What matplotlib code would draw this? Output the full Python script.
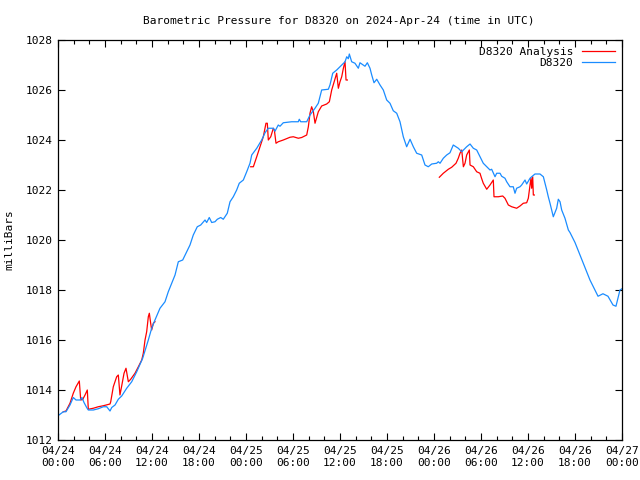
import matplotlib
matplotlib.use("Agg")
import matplotlib.pyplot as plt
from matplotlib.ticker import MultipleLocator

plt.rcParams['font.family'] = ['DejaVu Sans Mono']

# hours since 2024-04-24 00:00 UTC
obs_hours = [0, 0.68, 1.02, 1.53, 1.95, 2.30, 2.81, 3.06, 3.32, 3.66, 3.87, 4.51, 5.14, 5.78,
             6.22, 6.64, 6.86, 7.28, 7.70, 8.13, 8.77, 9.41, 10.05, 10.81, 11.53, 11.96, 12.38,
             13.02, 13.66, 14.08, 14.51, 14.94, 15.36, 15.92, 16.43, 16.85, 17.27, 17.78, 18.22,
             18.77, 18.98, 19.31, 19.62, 20.04, 20.34, 20.77, 21.10, 21.61, 21.96, 22.38, 22.81,
             23.14, 23.66, 24.09, 24.51, 24.73, 25.37, 26.00, 26.43, 26.85, 27.49, 27.70, 28.12,
             28.34, 28.76, 29.83, 30.68, 30.80, 30.98, 31.75, 32.17, 32.81, 33.23, 33.66, 34.51,
             34.72, 35.07, 35.58, 36.22, 36.64, 36.86, 37.06, 37.19, 37.49, 37.91, 38.34, 38.55,
             38.97, 39.19, 39.49, 39.83, 40.05, 40.34, 40.69, 41.11, 41.53, 41.96, 42.38, 42.80,
             43.24, 43.66, 44.08, 44.51, 44.94, 45.36, 45.79, 46.43, 46.85, 47.27, 47.71, 48.34,
             48.55, 48.77, 49.19, 49.62, 50.04, 50.46, 50.81, 51.10, 51.54, 52.17, 52.60, 53.02,
             53.45, 53.87, 54.29, 54.73, 55.15, 55.36, 55.79, 56.00, 56.43, 56.64, 57.06, 57.28,
             57.70, 58.12, 58.34, 58.55, 58.98, 59.19, 59.62, 59.83, 60.26, 60.47, 60.89, 61.53,
             61.96, 62.17, 62.39, 62.59, 62.81, 63.23, 63.66, 63.87, 64.09, 64.30, 64.72, 65.15,
             65.36, 66.0, 66.64, 67.28, 67.91, 68.55, 68.94, 69.57, 70.21, 70.85, 71.23, 71.74, 72.0]
obs_mb = [1012.97, 1013.13, 1013.13, 1013.4, 1013.7, 1013.6, 1013.6, 1013.7, 1013.5, 1013.3,
          1013.2, 1013.2, 1013.25, 1013.33, 1013.33, 1013.16, 1013.3, 1013.4, 1013.63, 1013.76,
          1014.07, 1014.33, 1014.73, 1015.27, 1016.0, 1016.47, 1016.8, 1017.27, 1017.53, 1017.93,
          1018.27, 1018.6, 1019.13, 1019.2, 1019.53, 1019.8, 1020.2, 1020.53, 1020.6, 1020.8,
          1020.7, 1020.9, 1020.7, 1020.73, 1020.83, 1020.9, 1020.83, 1021.07, 1021.53, 1021.73,
          1022.0, 1022.27, 1022.4, 1022.73, 1023.07, 1023.4, 1023.67, 1024.0, 1024.29, 1024.47,
          1024.47, 1024.35, 1024.6, 1024.55, 1024.69, 1024.73, 1024.73, 1024.83, 1024.73, 1024.73,
          1025.0, 1025.27, 1025.47, 1026.0, 1026.03, 1026.2, 1026.67, 1026.8, 1027.0, 1027.13,
          1027.33, 1027.25, 1027.44, 1027.13, 1027.07, 1026.87, 1027.09, 1027.0, 1026.95, 1027.09,
          1026.87, 1026.6, 1026.29, 1026.43, 1026.2, 1026.0, 1025.6, 1025.47, 1025.17, 1025.07,
          1024.73, 1024.13, 1023.73, 1024.03, 1023.73, 1023.47, 1023.4, 1023.0, 1022.93, 1023.04,
          1023.07, 1023.13, 1023.07, 1023.27, 1023.4, 1023.49, 1023.8, 1023.73, 1023.67, 1023.53,
          1023.73, 1023.84, 1023.67, 1023.6, 1023.33, 1023.07, 1022.93, 1022.8, 1022.83, 1022.53,
          1022.67, 1022.67, 1022.55, 1022.47, 1022.33, 1022.13, 1022.13, 1021.87, 1022.07, 1022.13,
          1022.2, 1022.4, 1022.24, 1022.47, 1022.53, 1022.64, 1022.64, 1022.53, 1022.27, 1022.0,
          1021.73, 1021.47, 1020.93, 1021.27, 1021.63, 1021.53, 1021.2, 1020.87, 1020.4, 1020.3,
          1019.9, 1019.4, 1018.9, 1018.4, 1018.0, 1017.75, 1017.85, 1017.75, 1017.4, 1017.35,
          1018.0, 1018.05]

ana1_hours = [0.68, 1.02, 1.53, 1.95, 2.30, 2.72, 2.90, 3.15, 3.45, 3.74, 3.87, 4.51, 5.14, 5.78,
              6.64, 6.73, 7.06, 7.49, 7.70, 7.91, 8.13, 8.43, 8.68, 8.98, 9.28, 9.83, 10.26, 10.69,
              10.89, 11.11, 11.32, 11.53, 11.66, 11.83, 11.96, 12.17, 12.38]
ana1_mb = [1013.13, 1013.16, 1013.47, 1013.87, 1014.13, 1014.36, 1013.6, 1013.62, 1013.8, 1014.0,
           1013.23, 1013.27, 1013.33, 1013.37, 1013.44, 1013.53, 1014.13, 1014.53, 1014.6, 1013.8,
           1014.16, 1014.67, 1014.87, 1014.33, 1014.43, 1014.67, 1014.93, 1015.2, 1015.47, 1016.0,
           1016.33, 1016.93, 1017.07, 1016.67, 1016.4, 1016.67, 1016.73]

ana2_hours = [24.60, 24.94, 25.37, 25.79, 26.21, 26.55, 26.72, 26.85, 27.16, 27.49, 27.62, 27.83,
              28.12, 28.76, 29.62, 30.04, 30.68, 31.11, 31.75, 31.96, 32.17, 32.38, 32.60, 32.81,
              33.23, 33.66, 34.30, 34.64, 34.94, 35.58, 35.79, 36.00, 36.22, 36.43, 36.64, 36.77, 36.94]
ana2_mb = [1022.93, 1022.93, 1023.33, 1023.73, 1024.13, 1024.67, 1024.67, 1024.0, 1024.13, 1024.47,
           1024.4, 1023.87, 1023.93, 1024.0, 1024.11, 1024.13, 1024.07, 1024.1, 1024.2, 1024.53,
           1025.07, 1025.33, 1025.13, 1024.67, 1025.13, 1025.36, 1025.44, 1025.53, 1026.0, 1026.67,
           1026.07, 1026.33, 1026.53, 1026.87, 1027.13, 1026.4, 1026.4]

ana3_hours = [48.68, 49.19, 49.83, 50.26, 50.81, 51.10, 51.32, 51.54, 51.75, 51.96, 52.17, 52.51,
              52.60, 53.02, 53.45, 53.87, 54.07, 54.29, 54.73, 55.15, 55.57, 55.66, 56.21, 56.77,
              57.06, 57.49, 57.92, 58.55, 58.98, 59.40, 59.83, 60.04, 60.26, 60.38, 60.47, 60.60,
              60.68, 60.81]
ana3_mb = [1022.51, 1022.67, 1022.83, 1022.91, 1023.07, 1023.27, 1023.47, 1023.6, 1022.93, 1023.07,
           1023.4, 1023.6, 1023.0, 1022.93, 1022.73, 1022.67, 1022.47, 1022.27, 1022.03, 1022.2,
           1022.4, 1021.73, 1021.73, 1021.76, 1021.67, 1021.4, 1021.33, 1021.27, 1021.36, 1021.47,
           1021.49, 1021.67, 1022.2, 1022.47, 1022.07, 1022.53, 1021.8, 1021.8]

tick_hours = [0, 6, 12, 18, 24, 30, 36, 42, 48, 54, 60, 66, 72]
tick_labels = ["04/24\n00:00", "04/24\n06:00", "04/24\n12:00", "04/24\n18:00",
               "04/25\n00:00", "04/25\n06:00", "04/25\n12:00", "04/25\n18:00",
               "04/26\n00:00", "04/26\n06:00", "04/26\n12:00", "04/26\n18:00",
               "04/27\n00:00"]

RED = '#ff0000'
BLUE = '#1a8cff'

fig = plt.figure(figsize=(6.4, 4.8), dpi=100)
ax = fig.add_axes([58/640, 40/480, 564/640, 400/480])

ax.plot(ana1_hours, ana1_mb, color=RED, lw=0.9, label='D8320 Analysis')
ax.plot(ana2_hours, ana2_mb, color=RED, lw=0.9)
ax.plot(ana3_hours, ana3_mb, color=RED, lw=0.9)
ax.plot(obs_hours, obs_mb, color=BLUE, lw=0.9, label='D8320')

ax.set_xlim(0, 72)
ax.set_ylim(1012, 1028)
ax.set_xticks(tick_hours)
ax.set_xticklabels(tick_labels, fontsize=8, linespacing=1.3)
ax.xaxis.set_minor_locator(MultipleLocator(2))
ax.set_yticks(range(1012, 1029, 2))
ax.tick_params(axis='y', labelsize=8)
ax.tick_params(which='major', direction='in', length=5, width=0.8, top=True, right=True, pad=4)
ax.tick_params(which='minor', direction='in', length=3, width=0.8, top=True, right=False)
ax.tick_params(axis='y', which='minor', left=False, right=False)
for s in ax.spines.values():
    s.set_linewidth(0.9)

ax.set_ylabel('milliBars', fontsize=8, labelpad=8)
fig.suptitle('Barometric Pressure for D8320 on 2024-Apr-24 (time in UTC)', x=0.53, y=0.966, fontsize=8)

leg = ax.legend(loc='upper right', frameon=False, markerfirst=False, fontsize=8,
                handlelength=3.0, handletextpad=0.8, borderaxespad=0.2, labelspacing=0.15)
for t in leg.get_texts():
    t.set_ha('right')

fig.savefig('out.png', dpi=100)
